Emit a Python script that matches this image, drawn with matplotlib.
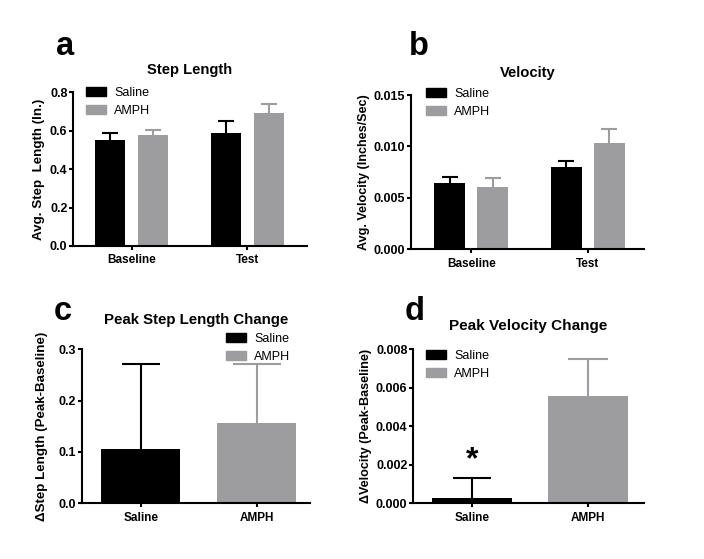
import numpy as np
import matplotlib.pyplot as plt
from matplotlib.patches import Patch

plt.rcParams['font.family'] = ['Liberation Sans', 'DejaVu Sans']

# data
groups = ['Baseline', 'Test']
treatments = ['Saline', 'AMPH']

step_saline = [0.551, 0.590]
step_saline_err = [0.038, 0.064]
step_amph = [0.580, 0.694]
step_amph_err = [0.026, 0.044]

vel_saline = [0.00648, 0.00798]
vel_saline_err = [0.00058, 0.00064]
vel_amph = [0.00609, 0.01031]
vel_amph_err = [0.00082, 0.00136]

peak_step = [0.105, 0.157]
peak_step_err = [0.1665, 0.114]

peak_vel = [0.00029, 0.00557]
peak_vel_err = [0.00104, 0.00191]

black = '#000000'
gray = '#9d9da0'
colors = [black, gray]

W, H = 704, 559
fig = plt.figure(figsize=(W / 100, H / 100), dpi=100)


def make_ax(left, right, top, bottom):
    return fig.add_axes([left / W, 1 - bottom / H, (right - left) / W, (bottom - top) / H])


def style(ax, ylim, yticks, fmt, xlim, xlabels):
    ax.set_ylim(*ylim)
    ax.set_yticks(yticks)
    ax.set_yticklabels([fmt.format(v) for v in yticks], fontweight='bold', fontsize=9)
    ax.set_xlim(*xlim)
    ax.set_xticks(range(len(xlabels)))
    ax.set_xticklabels(xlabels, fontweight='bold', fontsize=8.5)
    for s in ['top', 'right']:
        ax.spines[s].set_visible(False)
    for s in ['left', 'bottom']:
        ax.spines[s].set_linewidth(1.5)
    ax.tick_params(direction='out', length=3, width=1.5)
    ax.tick_params(axis='y', pad=1)
    ax.tick_params(axis='x', pad=3)


def bar_err(ax, x, h, e, w, color, cap):
    ax.bar(x, h, w, color=color, zorder=2)
    _, caps, _ = ax.errorbar(x, h, yerr=[[0], [e]], fmt='none', ecolor=color,
                             elinewidth=1.5, capsize=cap, capthick=1.5, zorder=1)
    caps[0].set_visible(False)  # only the upper cap


def legend(ax, x, y):
    handles = [Patch(color=c, label=t) for c, t in zip(colors, treatments)]
    ax.legend(handles=handles, loc='upper left', bbox_to_anchor=(x / W, 1 - y / H),
              bbox_transform=fig.transFigure, frameon=False, fontsize=9,
              handlelength=1.6, handleheight=0.7, handletextpad=0.65,
              labelspacing=0.45, borderpad=0, borderaxespad=0)


# a
ax = make_ax(73, 307, 92.5, 246)
off, w = 0.187, 0.26
for i in range(2):
    bar_err(ax, i - off, step_saline[i], step_saline_err[i], w, black, 5.5)
    bar_err(ax, i + off, step_amph[i], step_amph_err[i], w, gray, 5.5)
style(ax, (0, 0.8), [0, 0.2, 0.4, 0.6, 0.8], '{:.1f}', (-0.507, 1.514), groups)
ax.set_title('Step Length', fontweight='bold', fontsize=10.6, pad=13)
ax.set_ylabel('Avg. Step  Length (In.)', fontweight='bold', fontsize=9.6, labelpad=3.5)
legend(ax, 86, 87)

# b
ax = make_ax(411, 644, 95, 249.3)
off, w = 0.185, 0.267
for i in range(2):
    bar_err(ax, i - off, vel_saline[i], vel_saline_err[i], w, black, 6)
    bar_err(ax, i + off, vel_amph[i], vel_amph_err[i], w, gray, 6)
style(ax, (0, 0.015), [0, 0.005, 0.010, 0.015], '{:.3f}', (-0.52, 1.486), groups)
ax.set_title('Velocity', fontweight='bold', fontsize=10.6, pad=13)
ax.set_ylabel('Avg. Velocity (Inches/Sec)', fontweight='bold', fontsize=9.1, labelpad=3)
legend(ax, 426, 88)

# c
ax = make_ax(81.7, 310, 349.3, 503.3)
bar_err(ax, 0, peak_step[0], peak_step_err[0], 0.68, black, 14)
bar_err(ax, 1, peak_step[1], peak_step_err[1], 0.68, gray, 17)
style(ax, (0, 0.3), [0, 0.1, 0.2, 0.3], '{:.1f}', (-0.509, 1.46), treatments)
ax.set_title('Peak Step Length Change', fontweight='bold', fontsize=10.8, pad=18.5)
ax.set_ylabel('\u0394Step Length (Peak-Baseline)', fontweight='bold', fontsize=9.6, labelpad=7.5)
legend(ax, 226, 333)

# d
ax = make_ax(413, 644, 349.3, 503.3)
bar_err(ax, 0, peak_vel[0], peak_vel_err[0], 0.69, black, 14)
bar_err(ax, 1, peak_vel[1], peak_vel_err[1], 0.69, gray, 14.5)
style(ax, (0, 0.008), [0, 0.002, 0.004, 0.006, 0.008], '{:.3f}', (-0.506, 1.485), treatments)
ax.set_title('Peak Velocity Change', fontweight='bold', fontsize=11, pad=14)
ax.set_ylabel('\u0394Velocity (Peak-Baseline)', fontweight='bold', fontsize=9.1, labelpad=3)
ax.text(0, peak_vel[0] + peak_vel_err[0] + 0.00012, '*', ha='center', va='bottom',
        fontsize=23, fontweight='bold')
legend(ax, 426, 350)

# panel letters
for letter, x, y in [('a', 56, 55), ('b', 409, 55), ('c', 54, 320), ('d', 405, 320)]:
    fig.text(x / W, 1 - y / H, letter, fontsize=23.5, fontweight='bold', va='baseline')

fig.savefig('out.png', dpi=100)
